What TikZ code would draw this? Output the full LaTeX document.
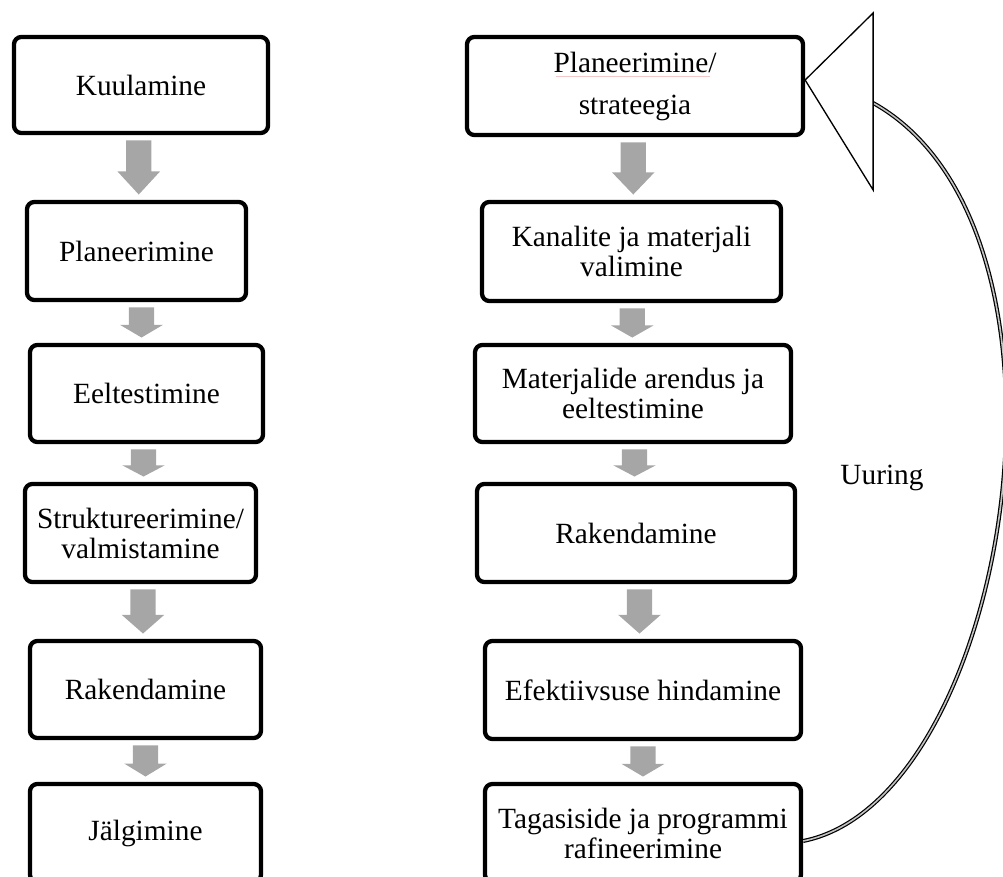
\documentclass[tikz,border=0pt]{standalone}
\usepackage{fontspec}
\setmainfont{Liberation Serif}
\usetikzlibrary{calc}

\definecolor{arrowgray}{RGB}{166,166,166}
\definecolor{ribbon}{RGB}{195,195,195}
\definecolor{spellred}{RGB}{245,200,200}

\tikzset{
  stage/.style 2 args={draw=black, line width=3.2pt, rounded corners=5.5pt,
    fill=white, align=center, inner sep=0pt,
    minimum width={#1*0.75pt}, minimum height={#2*0.75pt},
    font=\fontsize{22}{22.5}\selectfont},
  loopline/.style={draw=black, line width=0.9pt, double=ribbon,
    double distance=1.2pt},
  loophead/.style={draw=black, line width=1pt, fill=white, line join=miter},
  plainlabel/.style={font=\fontsize{22}{22.5}\selectfont, inner sep=0pt}
}

% grey block arrow between two stacked boxes
\newcommand\stepflow[2]{%
  \fill[arrowgray] let \p1=(#1.south), \p2=(#2.north),
      \p3=($(#1.south)!0.5!(#2.north)$),
      \p4=($(#1.south)!0.56!(#2.north)$) in
    (\x3-9.4pt,\y1-4pt) -- (\x3+9.4pt,\y1-4pt) -- (\x3+9.4pt,\y4)
    -- (\x3+16pt,\y4) -- (\x3,\y2+4pt) -- (\x3-16pt,\y4)
    -- (\x3-9.4pt,\y4) -- cycle;}

\begin{document}
\begin{tikzpicture}[x=0.75pt,y=-0.75pt]
\useasboundingbox (0,0) rectangle (1003,877);
\clip (0,0) rectangle (1003,877);

% left column
\node[stage={254}{96}] (L1) at (141,85) {Kuulamine};
\node[stage={219}{98}] (L2) at (136.5,251) {Planeerimine};
\node[stage={233}{97}] (L3) at (146.5,393.5) {Eeltestimine};
\node[stage={231}{98}] (L4) at (140.5,533) {Struktureerimine/\\valmistamine};
\node[stage={231}{97}] (L5) at (145.5,689.5) {Rakendamine};
\node[stage={231}{98}] (L6) at (145.5,833) {Jälgimine};

% right column
\node[stage={336}{98}] (R1) at (635,86) {Planeerimine/\\[9pt]strateegia};
\node[stage={299}{99}] (R2) at (631.5,251.5) {Kanalite ja materjali\\valimine};
\node[stage={316}{97}] (R3) at (633,393.5) {Materjalide arendus ja\\eeltestimine};
\node[stage={318}{98}] (R4) at (636,533) {Rakendamine};
\node[stage={316}{98}] (R5) at (643,690) {Efektiivsuse hindamine};
\node[stage={316}{98}] (R6) at (643,833) {Tagasiside ja programmi\\rafineerimine};

% spell-check underline under the first word
\draw[spellred, line width=0.5pt] (556,76) -- (710,76);

% flow arrows
\stepflow{L1}{L2}
\stepflow{L2}{L3}
\stepflow{L3}{L4}
\stepflow{L4}{L5}
\stepflow{L5}{L6}
\stepflow{R1}{R2}
\stepflow{R2}{R3}
\stepflow{R3}{R4}
\stepflow{R4}{R5}
\stepflow{R5}{R6}

% feedback loop back to the top
\coordinate (tip) at ([yshift=4.5pt]R1.east);
\coordinate (hb) at ($(tip)+(68,23)$);
\draw[loopline] ([yshift=-6pt]R6.east) .. controls (1010,800) and (1100,230) .. (hb);
\draw[loophead] (tip) -- ++(68,-67) -- ++(0,177) -- cycle;

\node[plainlabel] (uuring) at (882,478) {Uuring};
\end{tikzpicture}
\end{document}
